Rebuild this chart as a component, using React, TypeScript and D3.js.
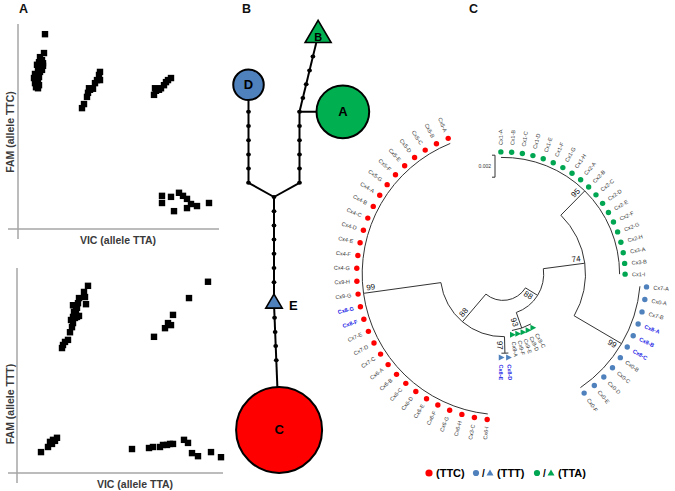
import React from 'react';
import * as d3 from 'd3';

const W = 675;
const H = 491;
const FONT = '"Liberation Sans", Arial, sans-serif';

const RED = '#ff0000';
const GREEN = '#00a651';
const GREEN_NET = '#00b050';
const BLUE = '#4f81bd';
const LABEL_BLUE = '#2323e6';

// ---- Panel A: allelic discrimination plots (VIC, FAM) ----
const ttcPoints: [number, number][] = [
  [0.54, 3.82], [0.52, 3.45], [0.44, 3.37], [0.48, 3.31], [0.42, 3.27], [0.5, 3.25],
  [0.38, 3.22], [0.46, 3.18], [0.4, 3.12], [0.44, 3.08], [0.34, 3.04], [0.38, 3.0],
  [0.42, 2.98], [0.32, 2.96], [0.36, 2.92], [0.4, 2.9], [0.34, 2.86], [0.38, 2.82],
  [0.42, 2.82], [0.36, 2.78], [0.4, 2.76], [0.48, 3.12], [0.5, 3.2],
  [1.28, 2.37], [1.32, 2.45], [1.38, 2.59], [1.4, 2.67], [1.44, 2.73], [1.5, 2.75],
  [1.54, 2.86], [1.58, 2.92], [1.64, 2.92], [1.62, 3.02], [1.64, 3.08], [1.42, 2.76],
  [2.72, 2.63], [2.76, 2.71], [2.82, 2.73], [2.86, 2.76], [2.92, 2.82], [2.96, 2.88],
  [3.0, 2.92], [3.06, 2.96], [2.74, 2.76],
  [2.88, 0.65], [2.88, 0.51], [3.06, 0.63], [3.12, 0.35], [3.22, 0.71], [3.3, 0.65],
  [3.38, 0.59], [3.38, 0.41], [3.46, 0.49], [3.58, 0.45], [3.82, 0.51],
];

const tttPoints: [number, number][] = [
  [0.9, 2.45], [0.92, 2.51], [0.96, 2.57], [1.02, 2.61], [1.06, 2.76], [1.1, 2.86],
  [1.12, 2.94], [1.08, 3.0], [1.16, 3.04], [1.2, 3.06], [1.24, 3.08], [1.14, 3.16],
  [1.2, 3.24], [1.12, 3.29], [1.22, 3.33], [1.24, 3.43], [1.36, 3.45], [1.38, 3.31],
  [1.34, 3.55], [1.42, 3.67], [1.18, 3.2], [1.12, 3.06],
  [2.74, 2.67], [2.96, 2.84], [3.02, 2.94], [3.08, 2.9], [3.12, 3.1], [3.44, 3.43], [3.82, 3.75],
  [0.48, 0.41], [0.62, 0.51], [0.66, 0.61], [0.72, 0.65], [0.8, 0.69], [0.7, 0.57], [0.76, 0.63],
  [2.3, 0.47], [2.64, 0.49], [2.72, 0.51], [2.86, 0.51], [2.92, 0.55], [3.0, 0.55],
  [3.06, 0.57], [3.12, 0.57], [3.34, 0.65], [3.42, 0.59], [3.5, 0.39], [3.62, 0.33],
  [3.88, 0.41], [4.08, 0.31],
];

// ---- Panel B: haplotype network ----
const hapNodes = [
  { id: 'A', count: 19, shape: 'circle', fill: GREEN_NET, ux: 2.7, uy: -6 },
  { id: 'B', count: 5, shape: 'triangle', fill: GREEN_NET, ux: 1.73, uy: -11.4 },
  { id: 'C', count: 31, shape: 'circle', fill: RED, ux: 0.2, uy: 16.4 },
  { id: 'D', count: 11, shape: 'circle', fill: BLUE, ux: -1, uy: -7.9 },
  { id: 'E', count: 2, shape: 'triangle', fill: BLUE, ux: 0, uy: 7.5 },
];
const medianVectors = [
  { id: 'm0', ux: 0, uy: 0 },
  { id: 'mL', ux: -1, uy: -1 },
  { id: 'mR', ux: 1, uy: -1 },
  { id: 'mA', ux: 1, uy: -6 },
];
// [from, to, intermediate mutation steps]
const hapLinks: [string, string, number][] = [
  ['m0', 'mL', 0], ['m0', 'mR', 0], ['mL', 'D', 5], ['mR', 'mA', 4],
  ['mA', 'A', 0], ['mA', 'B', 4], ['m0', 'E', 6], ['E', 'C', 4],
];

// ---- Panel C: circular tree ----
const greenLeaves = ['Cx1-A', 'Cx1-B', 'Cx1-C', 'Cx1-D', 'Cx1-E', 'Cx1-F', 'Cx1-G', 'Cx1-H', 'Cx2-A', 'Cx2-B',
  'Cx2-C', 'Cx2-D', 'Cx2-E', 'Cx2-F', 'Cx2-G', 'Cx2-H', 'Cx3-A', 'Cx3-B', 'Cx1-I'];
const blueLeaves = ['Cx7-A', 'Cx0-A', 'Cx7-B', 'Cx8-A', 'Cx8-B', 'Cx8-C', 'Cx0-B', 'Cx0-C', 'Cx0-D', 'Cx0-E', 'Cx0-F'];
const greenTriLeaves = ['Cx9-C', 'Cx9-D', 'Cx9-E', 'Cx9-F', 'Cx9-A'];
const blueTriLeaves = ['Cx8-D', 'Cx8-E'];
const redLeaves = ['Cx6-I', 'Cx3-C', 'Cx6-H', 'Cx6-G', 'Cx6-F', 'Cx6-E', 'Cx6-D', 'Cx6-C', 'Cx6-B', 'Cx6-A',
  'Cx7-C', 'Cx7-D', 'Cx7-E', 'Cx8-F', 'Cx8-G', 'Cx9-G', 'Cx9-H', 'Cx4-G', 'Cx4-F', 'Cx4-E', 'Cx4-D',
  'Cx4-C', 'Cx4-B', 'Cx4-A', 'Cx5-G', 'Cx5-F', 'Cx5-E', 'Cx5-D', 'Cx5-C', 'Cx5-B', 'Cx5-A'];

const treeNodes: { id: string; parent: string | null; depth: number; support?: number }[] = [
  { id: 'root', parent: null, depth: 0.0024 },
  { id: 'n88a', parent: 'root', depth: 0.0037, support: 88 },
  { id: 'n74', parent: 'n88a', depth: 0.0075, support: 74 },
  { id: 'g95', parent: 'n74', depth: 0.0106, support: 95 },
  { id: 'b99', parent: 'n74', depth: 0.0125, support: 99 },
  { id: 't93', parent: 'n88a', depth: 0.0052, support: 93 },
  { id: 'n88b', parent: 'root', depth: 0.0057, support: 88 },
  { id: 't97', parent: 'n88b', depth: 0.0072, support: 97 },
  { id: 'r99', parent: 'n88b', depth: 0.0128, support: 99 },
];
const cladeLeaves: Record<string, string[]> = {
  g95: greenLeaves, b99: blueLeaves, t93: greenTriLeaves, t97: blueTriLeaves, r99: redLeaves,
};
const leafDepth: Record<string, number> = { g95: 0.0111, b99: 0.0131, t93: 0.0056, t97: 0.0076, r99: 0.0133 };
const cladeStyle: Record<string, { color: string; shape: string }> = {
  g95: { color: GREEN, shape: 'circle' },
  b99: { color: BLUE, shape: 'circle' },
  t93: { color: GREEN, shape: 'triangle' },
  t97: { color: BLUE, shape: 'triangle' },
  r99: { color: RED, shape: 'circle' },
};

const legendItems = [
  { label: '(TTC)', color: RED, shapes: ['circle'] },
  { label: '(TTT)', color: BLUE, shapes: ['circle', 'triangle'] },
  { label: '(TTA)', color: GREEN, shapes: ['circle', 'triangle'] },
];

const RAD = Math.PI / 180;

function triPath(w: number) {
  const h = w * 0.85;
  return `M0,${-2 * h / 3}L${w / 2},${h / 3}L${-w / 2},${h / 3}Z`;
}

function ScatterPanel({ points, x, y, xLabel, yLabel, xLabelX, yLabelY, axisRight }: any) {
  const [x0] = x.range();
  const [y0, y1] = y.range();
  return (
    <g>
      <line x1={x0} x2={x0} y1={y1 - 1} y2={y0 + 10} stroke="#a6a6a6" strokeWidth={1.5} />
      <line x1={8} x2={axisRight} y1={y0} y2={y0} stroke="#a6a6a6" strokeWidth={1.5} />
      {points.map((p: [number, number], i: number) => (
        <rect key={i} x={x(p[0]) - 3.2} y={y(p[1]) - 3.2} width={6.4} height={6.4} fill="#000" />
      ))}
      <text x={xLabelX} y={y0 + 15} textAnchor="middle" fontSize={10.5} fontWeight="bold" fill="#3a3a3a">{xLabel}</text>
      <text transform={`translate(10,${yLabelY}) rotate(-90)`} textAnchor="middle" dominantBaseline="central"
        fontSize={10.5} fontWeight="bold" fill="#3a3a3a">{yLabel}</text>
    </g>
  );
}

function Network() {
  const xN = d3.scaleLinear().domain([0, 1]).range([274, 299.5]);
  const yN = d3.scaleLinear().domain([0, 1]).range([197, 211.2]);
  const stepPx = yN(1) - yN(0);
  const rN = d3.scaleLinear().domain([0, 31]).range([0, 43]);
  const triW = d3.scaleSqrt().domain([0, 5]).range([0, 26]);
  const pos: Record<string, [number, number]> = {};
  [...hapNodes, ...medianVectors].forEach((n) => { pos[n.id] = [xN(n.ux), yN(n.uy)]; });

  const dots: [number, number][] = medianVectors.map((m) => pos[m.id]);
  hapLinks.forEach(([a, b, steps]) => {
    const [ax, ay] = pos[a];
    const [bx, by] = pos[b];
    const len = Math.hypot(bx - ax, by - ay);
    for (let k = 1; k <= steps; k++) {
      dots.push([ax + (bx - ax) * (k * stepPx) / len, ay + (by - ay) * (k * stepPx) / len]);
    }
  });

  return (
    <g>
      {hapLinks.map(([a, b], i) => (
        <line key={i} x1={pos[a][0]} y1={pos[a][1]} x2={pos[b][0]} y2={pos[b][1]} stroke="#000" strokeWidth={2} />
      ))}
      {dots.map((d, i) => <ellipse key={i} cx={d[0]} cy={d[1]} rx={2.4} ry={2} fill="#000" />)}
      {hapNodes.map((n) => {
        const [px, py] = pos[n.id];
        const isTri = n.shape === 'triangle';
        const w = triW(n.count);
        return (
          <g key={n.id} transform={`translate(${px},${py})`}>
            {isTri
              ? <path d={triPath(w)} fill={n.fill} stroke="#000" strokeWidth={1.6} />
              : <circle r={rN(n.count)} fill={n.fill} stroke="#000" strokeWidth={2} />}
            <text
              x={n.id === 'E' ? w / 2 + 11 : 0}
              y={isTri ? 2 : 0}
              textAnchor="middle" dominantBaseline="central" fontWeight="bold"
              fontSize={n.id === 'B' ? 11 : 13} fill="#000"
            >{n.id}</text>
          </g>
        );
      })}
    </g>
  );
}

function Tree() {
  const cx = 503;
  const cy = 274;
  const rScale = d3.scaleLinear().domain([0, 0.002]).range([0, 22]);
  const total = Object.values(cladeLeaves).reduce((s, l) => s + l.length, 0);
  const angleOf = d3.scaleLinear().domain([0, total - 1]).range([-91, 248]);
  const pt = (r: number, a: number): [number, number] => [cx + r * Math.cos(a * RAD), cy + r * Math.sin(a * RAD)];

  const layout: Record<string, { angle: number; minA: number; maxA: number; r: number }> = {};
  const leaves: { name: string; angle: number; clade: string }[] = [];
  let slot = 0;
  const visit = (id: string): number => {
    const node = treeNodes.find((n) => n.id === id)!;
    const own = cladeLeaves[id];
    let angles: number[];
    if (own) {
      angles = own.map((name) => {
        const a = angleOf(slot++);
        leaves.push({ name, angle: a, clade: id });
        return a;
      });
    } else {
      angles = treeNodes.filter((n) => n.parent === id).map((k) => visit(k.id));
    }
    const minA = d3.min(angles)!;
    const maxA = d3.max(angles)!;
    const a = own ? (minA + maxA) / 2 : d3.mean(angles)!;
    layout[id] = { angle: a, minA, maxA, r: rScale(node.depth) };
    return a;
  };
  visit('root');

  const flip = (a: number) => {
    const n = ((a % 360) + 360) % 360;
    return n > 92 && n < 268;
  };

  return (
    <g>
      {treeNodes.map((n) => {
        const L = layout[n.id];
        const p = d3.path();
        p.arc(cx, cy, L.r, L.minA * RAD, L.maxA * RAD);
        const stem = n.parent ? (
          <line x1={pt(layout[n.parent].r, L.angle)[0]} y1={pt(layout[n.parent].r, L.angle)[1]}
            x2={pt(L.r, L.angle)[0]} y2={pt(L.r, L.angle)[1]} stroke="#333" strokeWidth={1} />
        ) : null;
        return (
          <g key={n.id}>
            <path d={p.toString()} fill="none" stroke="#333" strokeWidth={1} />
            {stem}
          </g>
        );
      })}
      {treeNodes.filter((n) => n.support).map((n) => {
        const L = layout[n.id];
        const [bx, by] = pt(L.r - 8, L.angle);
        let px = -Math.sin(L.angle * RAD);
        let py = Math.cos(L.angle * RAD);
        if (px > 0) { px = -px; py = -py; }
        const rot = flip(L.angle) ? L.angle + 180 : L.angle;
        return (
          <text key={n.id} transform={`translate(${bx + px * 5},${by + py * 5}) rotate(${rot})`}
            textAnchor="middle" dominantBaseline="central" fontSize={8} fill="#111">{n.support}</text>
        );
      })}
      {leaves.map((l) => {
        const st = cladeStyle[l.clade];
        const r = rScale(leafDepth[l.clade]);
        const [mx, my] = pt(r, l.angle);
        const [tx, ty] = pt(r + 7, l.angle);
        const f = flip(l.angle);
        const bold = l.name.startsWith('Cx8');
        return (
          <g key={l.name + l.clade}>
            {st.shape === 'circle'
              ? <circle cx={mx} cy={my} r={2.7} fill={st.color} />
              : <path transform={`translate(${mx},${my})`} d="M-2.6,-3L3.2,0L-2.6,3Z" fill={st.color} />}
            <text transform={`translate(${tx},${ty}) rotate(${f ? l.angle + 180 : l.angle})`}
              textAnchor={f ? 'end' : 'start'} dominantBaseline="central" fontSize={5.5}
              fontWeight={bold ? 'bold' : 'normal'} fill={bold ? LABEL_BLUE : '#333'}>{l.name}</text>
          </g>
        );
      })}
      {/* scale bar */}
      <g stroke="#333" strokeWidth={1} fill="none">
        <line x1={495} x2={495} y1={cy - rScale(0.0108)} y2={cy - rScale(0.0108) + rScale(0.002)} />
        <line x1={492} x2={495} y1={cy - rScale(0.0108)} y2={cy - rScale(0.0108)} />
        <line x1={492} x2={495} y1={cy - rScale(0.0108) + rScale(0.002)} y2={cy - rScale(0.0108) + rScale(0.002)} />
      </g>
      <text x={491} y={cy - rScale(0.0108) + rScale(0.001)} textAnchor="end" dominantBaseline="central"
        fontSize={5} fill="#333">0.002</text>
    </g>
  );
}

function Legend() {
  let x = 429;
  const y = 473;
  const parts: React.ReactNode[] = [];
  legendItems.forEach((item, i) => {
    item.shapes.forEach((s, j) => {
      if (j > 0) {
        parts.push(<text key={`s${i}${j}`} x={x - 1} y={y + 4} fontSize={10} fontWeight="bold" fill="#000">/</text>);
        x += 7;
      }
      parts.push(s === 'circle'
        ? <circle key={`c${i}${j}`} cx={x} cy={y} r={i === 0 ? 3.6 : 3.1} fill={item.color} />
        : <path key={`t${i}${j}`} transform={`translate(${x},${y + 0.5})`} d={triPath(7)} fill={item.color} />);
      x += 7;
    });
    parts.push(<text key={`l${i}`} x={x} y={y + 4} fontSize={11} fontWeight="bold" fill="#000">{item.label}</text>);
    x += 40;
  });
  return <g>{parts}</g>;
}

export default function App() {
  const xTop = d3.scaleLinear().domain([0, 4]).range([18, 218]);
  const yTop = d3.scaleLinear().domain([0, 4]).range([229, 25]);
  const xBot = d3.scaleLinear().domain([0, 4]).range([17, 217]);
  const yBot = d3.scaleLinear().domain([0, 4]).range([473, 269]);

  return (
    <div style={{ position: 'absolute', left: 0, top: 0 }}>
      <svg width={W} height={H} style={{ display: 'block', background: '#fff' }} fontFamily={FONT}>
        <text x={19} y={13} fontSize={12.5} fontWeight="bold" fill="#111">A</text>
        <text x={242} y={13} fontSize={12.5} fontWeight="bold" fill="#111">B</text>
        <text x={469} y={13} fontSize={12.5} fontWeight="bold" fill="#111">C</text>

        <ScatterPanel points={ttcPoints} x={xTop} y={yTop} xLabel="VIC (allele TTA)" yLabel="FAM (allele TTC)"
          xLabelX={118} yLabelY={132} axisRight={219} />
        <ScatterPanel points={tttPoints} x={xBot} y={yBot} xLabel="VIC (allele  TTA)" yLabel="FAM (allele TTT)"
          xLabelX={135} yLabelY={404} axisRight={223} />

        <Network />
        <Tree />
        <Legend />
      </svg>
    </div>
  );
}
